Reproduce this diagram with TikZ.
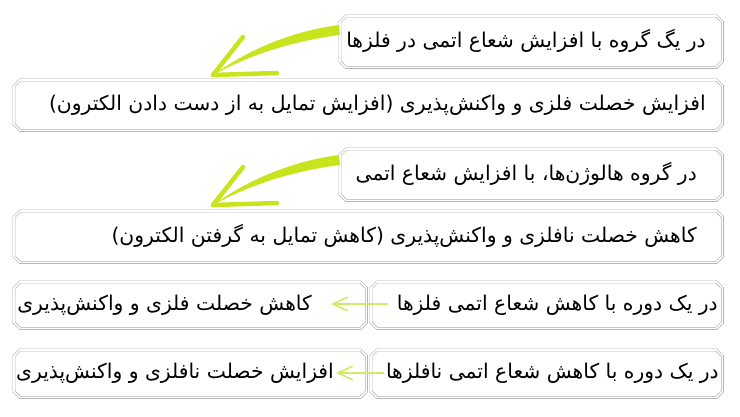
\documentclass[tikz,border=0pt]{standalone}
\usepackage{fontspec}
\newfontfamily\arabicfont[Script=Arabic]{DejaVu Sans}
\TeXXeTstate=1
\usetikzlibrary{arrows.meta}
\definecolor{brushgreen}{HTML}{C8E41C}
\definecolor{thingreen}{HTML}{D2EA6A}

\begin{document}
\begin{tikzpicture}[x=1pt, y=-1pt,
    box/.style={rectangle, inner sep=0pt, anchor=north west},
    frame/.style={draw=gray!65, double=white, double distance=1.6pt, line width=0.6pt},
    fa/.style={font=\arabicfont\fontsize{20.3}{24}\selectfont, anchor=east, inner sep=0pt},
    thin arrow/.style={thingreen, line width=1.6pt, -{Straight Barb[length=15pt, width=14pt]}}]
    \useasboundingbox (0,0) rectangle (740,416);

    % Рамки
    \node[box, minimum width=382pt, minimum height=51pt] (g1) at (340,16) {};
    \node[box, minimum width=708pt, minimum height=50pt] (e1) at (14,80) {};
    \node[box, minimum width=382pt, minimum height=51pt] (g2) at (340,149) {};
    \node[box, minimum width=708pt, minimum height=51pt] (e2) at (14,211) {};
    \node[box, minimum width=351pt, minimum height=46pt] (p1) at (371,282) {};
    \node[box, minimum width=352pt, minimum height=46pt] (r1) at (14,282) {};
    \node[box, minimum width=351pt, minimum height=47pt] (p2) at (371,350) {};
    \node[box, minimum width=352pt, minimum height=47pt] (r2) at (14,350) {};
    \foreach \b in {g1,e1,g2,e2,p1,r1,p2,r2}
        \draw[frame] ([xshift=6pt]\b.north west) -- ([xshift=-6pt]\b.north east)
            -- ([yshift=-6pt]\b.north east) -- ([yshift=6pt]\b.south east)
            -- ([xshift=-6pt]\b.south east) -- ([xshift=6pt]\b.south west)
            -- ([yshift=6pt]\b.south west) -- ([yshift=-6pt]\b.north west) -- cycle;

    % Тексты
    \node[fa] (t1) at (706,41) {\beginR در یگ گروه با افزایش شعاع اتمی در فلزها\endR};
    \node[fa] (t2) at (706,105) {\beginR افزایش خصلت فلزی و واکنش‌پذیری (افزایش تمایل به از دست دادن الکترون)\endR};
    \node[fa] (t3) at (697,174) {\beginR در گروه هالوژن‌ها، با افزایش شعاع اتمی\endR};
    \node[fa] (t4) at (697,236) {\beginR کاهش خصلت نافلزی و واکنش‌پذیری (کاهش تمایل به گرفتن الکترون)\endR};
    \node[fa] (t5) at (718,305) {\beginR در یک دوره با کاهش شعاع اتمی فلزها\endR};
    \node[fa] (t6) at (312,305) {\beginR کاهش خصلت فلزی و واکنش‌پذیری\endR};
    \node[fa] (t7) at (719,373) {\beginR در یک دوره با کاهش شعاع اتمی نافلزها\endR};
    \node[fa] (t8) at (334,373) {\beginR افزایش خصلت نافلزی و واکنش‌پذیری\endR};

    % Большие стрелки
    \coordinate (h1) at (213,75);
    \coordinate (h2) at (213,205);
    \foreach \h in {h1,h2} {
        \begin{scope}[shift={(\h)}]
            \fill[brushgreen] (126,-50) .. controls (87,-45) and (42,-30) .. (0,0)
                .. controls (42,-23) and (87,-35) .. (127,-40) -- cycle;
            \draw[brushgreen, line width=4.5pt, line cap=round] (0,0) -- (30,-38);
            \draw[brushgreen, line width=4.5pt, line cap=round] (0,0) -- (64,-2);
        \end{scope}
    }

    % Малые стрелки
    \coordinate (s1) at (388,304);
    \coordinate (s2) at (331,304);
    \coordinate (s3) at (384,373);
    \coordinate (s4) at (336,373);
    \draw[thin arrow] (s1) -- (s2);
    \draw[thin arrow] (s3) -- (s4);
\end{tikzpicture}
\end{document}
